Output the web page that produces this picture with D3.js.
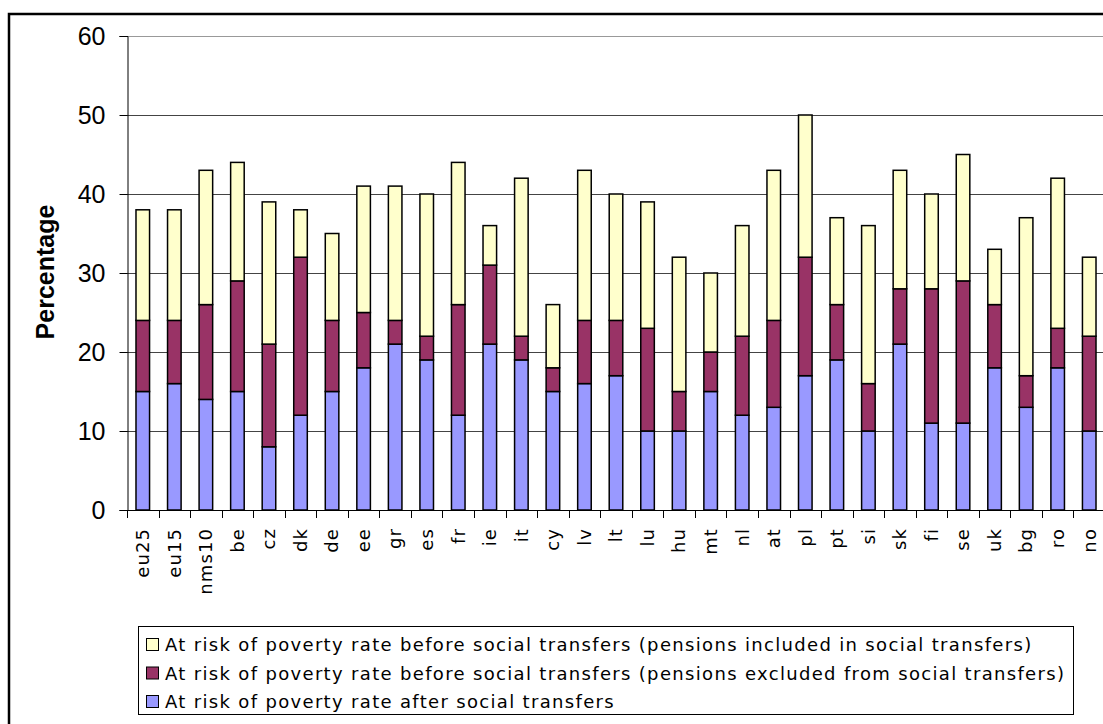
<!DOCTYPE html>
<html>
<head>
<meta charset="utf-8">
<script src="https://cdn.jsdelivr.net/npm/d3@7"></script>
<style>
  html, body { margin: 0; padding: 0; background: #fff; }
  svg { display: block; }
</style>
</head>
<body>
<svg id="chart" width="1103" height="724"></svg>
<script>
const categories = ["eu25","eu15","nms10","be","cz","dk","de","ee","gr","es","fr","ie","it","cy","lv","lt","lu","hu","mt","nl","at","pl","pt","si","sk","fi","se","uk","bg","ro","no"];
const afterTransfers = [15,16,14,15,8,12,15,18,21,19,12,21,19,15,16,17,10,10,15,12,13,17,19,10,21,11,11,18,13,18,10];
const beforePensionsExcluded = [24,24,26,29,21,32,24,25,24,22,26,31,22,18,24,24,23,15,20,22,24,32,26,16,28,28,29,26,17,23,22];
const beforePensionsIncluded = [38,38,43,44,39,38,35,41,41,40,44,36,42,26,43,40,39,32,30,36,43,50,37,36,43,40,45,33,37,42,32];
const yTicks = [0,10,20,30,40,50,60];
const seriesNames = [
  "At risk of poverty rate before social transfers (pensions included in social transfers)",
  "At risk of poverty rate before social transfers (pensions excluded from social transfers)",
  "At risk of poverty rate after social transfers"
];
const seriesColors = ["#FFFFCC", "#993366", "#9999FF"];

(function () {
const svg = d3.select("#chart");
const pL = 127, pR = 1105, pT = 36, pB = 510;

// outer frame
svg.append("rect").attr("x", 9).attr("y", 14).attr("width", 1200).attr("height", 800)
  .attr("fill", "#fff").attr("stroke", "#000").attr("stroke-width", 2.5);

const x = d3.scaleBand().domain(categories).range([pL, pR]).paddingInner(0.57).paddingOuter(0.285);
const y = d3.scaleLinear().domain([0, 60]).range([pB, pT]);

// gridlines
svg.append("g").selectAll("line").data(yTicks.filter(d => d > 0)).join("line")
  .attr("x1", pL).attr("x2", pR)
  .attr("y1", d => Math.round(y(d)) + 0.5).attr("y2", d => Math.round(y(d)) + 0.5)
  .attr("stroke", d => d === 60 ? "#999" : "#444").attr("stroke-width", 1);

// bars
const rows = categories.map((c, i) => ({
  c,
  segs: [
    { y0: 0, y1: afterTransfers[i], color: seriesColors[2] },
    { y0: afterTransfers[i], y1: beforePensionsExcluded[i], color: seriesColors[1] },
    { y0: beforePensionsExcluded[i], y1: beforePensionsIncluded[i], color: seriesColors[0] }
  ]
}));
const bars = svg.append("g");
rows.forEach(r => {
  bars.selectAll(null).data(r.segs).join("rect")
    .attr("x", x(r.c)).attr("width", x.bandwidth())
    .attr("y", d => y(d.y1)).attr("height", d => y(d.y0) - y(d.y1))
    .attr("fill", d => d.color).attr("stroke", "#000").attr("stroke-width", 1.5);
});

// y axis
const yAxis = svg.append("g").attr("transform", `translate(${pL + 0.5},0)`)
  .call(d3.axisLeft(y).tickValues(yTicks).tickSize(8).tickPadding(14).tickFormat(d3.format("d")));
yAxis.select(".domain").attr("stroke", "#000");
yAxis.selectAll(".tick line").attr("stroke", "#000");
yAxis.selectAll("text").attr("font-family", "'Liberation Sans', Arial, sans-serif")
  .attr("font-size", 25).attr("fill", "#000");

// x axis
svg.append("line").attr("x1", pL).attr("x2", pR).attr("y1", pB + 0.5).attr("y2", pB + 0.5)
  .attr("stroke", "#000");
const half = (x.step() - x.bandwidth()) / 2;
const bounds = categories.map(c => x(c) - half).concat([x(categories[categories.length - 1]) + x.bandwidth() + half]);
svg.append("g").selectAll("line").data(bounds).join("line")
  .attr("x1", d => Math.round(d) + 0.5).attr("x2", d => Math.round(d) + 0.5)
  .attr("y1", pB).attr("y2", pB + 8).attr("stroke", "#000");

svg.append("g").selectAll("text").data(categories).join("text")
  .attr("transform", d => `translate(${x(d) + x.bandwidth() / 2},528) rotate(-90)`)
  .attr("text-anchor", "end").attr("dy", "0.35em")
  .attr("font-family", "'DejaVu Sans', Verdana, sans-serif").attr("font-size", 18)
  .attr("letter-spacing", 1.1).attr("fill", "#000")
  .text(d => d);

// y title
svg.append("text").attr("transform", "translate(45,272) rotate(-90)")
  .attr("text-anchor", "middle").attr("dy", "0.35em")
  .attr("font-family", "'Liberation Sans', Arial, sans-serif").attr("font-size", 25)
  .attr("font-weight", "bold").text("Percentage");

// legend
const lg = svg.append("g");
lg.append("rect").attr("x", 138.5).attr("y", 626.5).attr("width", 935).attr("height", 88)
  .attr("fill", "#fff").attr("stroke", "#000").attr("stroke-width", 1);
const ly = [645, 673.5, 702];
seriesNames.forEach((n, i) => {
  lg.append("rect").attr("x", 146.5).attr("y", ly[i] - 6.5).attr("width", 12).attr("height", 12)
    .attr("fill", seriesColors[i]).attr("stroke", "#000").attr("stroke-width", 1);
  lg.append("text").attr("x", 165).attr("y", ly[i]).attr("dy", "0.35em")
    .attr("font-family", "'DejaVu Sans', Verdana, sans-serif").attr("font-size", 18)
    .attr("letter-spacing", 1.33).attr("fill", "#000").text(n);
});
})();
</script>
</body>
</html>
